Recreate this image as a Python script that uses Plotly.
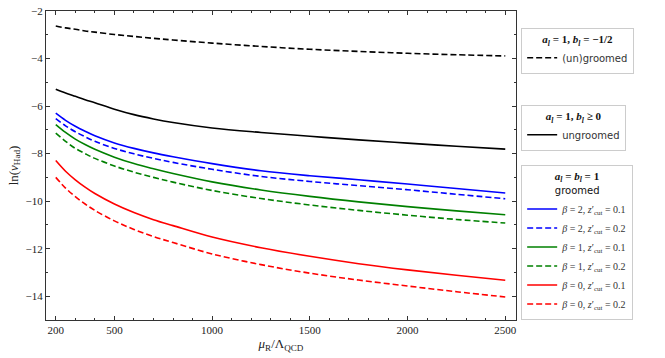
import plotly.graph_objects as go

# renormalisation scale mu_R / Lambda_QCD
mu = [200, 250, 300, 350, 400, 500, 600, 700, 800, 1000, 1250, 1500, 1750, 2000, 2250, 2500]

# a_l = 1, b_l = -1/2 : (un)groomed
unbal_dashed = [-2.63, -2.71, -2.77, -2.84, -2.89, -2.99, -3.07, -3.15, -3.22, -3.35, -3.49, -3.61, -3.70, -3.78, -3.84, -3.89]
# a_l = 1, b_l >= 0 : ungroomed
ungroomed = [-5.29, -5.45, -5.59, -5.73, -5.86, -6.13, -6.36, -6.54, -6.69, -6.92, -7.11, -7.27, -7.42, -7.56, -7.69, -7.81]
# a_l = b_l = 1 : groomed
b2_z01 = [-6.30, -6.60, -6.85, -7.06, -7.25, -7.55, -7.78, -7.97, -8.13, -8.42, -8.72, -8.93, -9.10, -9.28, -9.47, -9.66]
b2_z02 = [-6.53, -6.83, -7.08, -7.29, -7.48, -7.78, -8.01, -8.20, -8.37, -8.66, -8.96, -9.17, -9.35, -9.52, -9.71, -9.90]
b1_z01 = [-6.78, -7.11, -7.39, -7.62, -7.82, -8.15, -8.42, -8.64, -8.84, -9.19, -9.53, -9.80, -10.03, -10.23, -10.41, -10.57]
b1_z02 = [-7.14, -7.48, -7.78, -8.00, -8.20, -8.52, -8.78, -9.00, -9.20, -9.55, -9.89, -10.16, -10.39, -10.59, -10.77, -10.92]
b0_z01 = [-8.29, -8.74, -9.10, -9.41, -9.68, -10.12, -10.48, -10.78, -11.03, -11.51, -11.96, -12.32, -12.63, -12.89, -13.12, -13.33]
b0_z02 = [-9.00, -9.45, -9.81, -10.12, -10.39, -10.83, -11.19, -11.49, -11.74, -12.22, -12.67, -13.03, -13.32, -13.57, -13.81, -14.03]

x_ticks = [200, 500, 1000, 1500, 2000, 2500]

SERIF = "Liberation Serif"
SANS = "DejaVu Sans"
DASH = "6px,3px"

fig = go.Figure()


def add_line(y, name, color, dash, legend):
    fig.add_trace(go.Scatter(
        x=mu, y=y, mode="lines", name=name, legend=legend,
        line=dict(color=color, width=1.6, dash=dash, shape="spline", smoothing=1.0),
    ))


def sans(text):
    return f"<span style=\"font-family:'{SANS}'\">{text}</span>"


def zcut(beta, z):
    return f"<i>β</i> = {beta}, <i>z</i>′<sub>cut</sub> = {z}"


add_line(unbal_dashed, sans("(un)groomed"), "black", DASH, "legend")
add_line(ungroomed, sans("ungroomed"), "black", "solid", "legend2")
add_line(b2_z01, zcut(2, 0.1), "blue", "solid", "legend3")
add_line(b2_z02, zcut(2, 0.2), "blue", DASH, "legend3")
add_line(b1_z01, zcut(1, 0.1), "green", "solid", "legend3")
add_line(b1_z02, zcut(1, 0.2), "green", DASH, "legend3")
add_line(b0_z01, zcut(0, 0.1), "red", "solid", "legend3")
add_line(b0_z02, zcut(0, 0.2), "red", DASH, "legend3")

legend_style = dict(
    xanchor="left", yanchor="top",
    bgcolor="white", bordercolor="#cccccc", borderwidth=1,
    font=dict(family=SERIF, size=10, color="#333333"),
    tracegroupgap=0, itemwidth=30,
)


def legend_title(text):
    return dict(text=text, side="top center",
                font=dict(family=SERIF, size=11, color="#111111"))


fig.update_layout(
    width=665, height=358,
    margin=dict(l=46, r=149, t=11, b=38),
    plot_bgcolor="white", paper_bgcolor="white",
    font=dict(family=SERIF, size=11, color="#222222"),
    showlegend=True,
    legend=dict(x=1.011, y=0.945,
                title=legend_title("<b><i>a<sub>l</sub></i> = 1, <i>b<sub>l</sub></i> = −1/2</b>"),
                **legend_style),
    legend2=dict(x=1.011, y=0.696,
                 title=legend_title("<b><i>a<sub>l</sub></i> = 1, <i>b<sub>l</sub></i> ≥ 0</b>"),
                 **legend_style),
    legend3=dict(x=1.011, y=0.502,
                 title=legend_title("<b><i>a<sub>l</sub></i> = <i>b<sub>l</sub></i> = 1</b><br>"
                                    + sans("<span style='font-size:10px'>groomed</span>")),
                 **legend_style),
)

axis_common = dict(
    showline=True, linecolor="#333333", linewidth=1, mirror="ticks",
    ticks="inside", ticklen=4, tickcolor="#333333", tickwidth=1,
    showgrid=False, zeroline=False, automargin=False,
    tickfont=dict(family=SERIF, size=11, color="#222222"),
)

fig.update_xaxes(
    range=[150, 2555], tickmode="array", tickvals=x_ticks,
    minor=dict(tickmode="linear", tick0=0, dtick=100, ticks="inside",
               ticklen=2, tickcolor="#333333", showgrid=False),
    title=dict(text="<i>μ</i><sub>R</sub>/Λ<sub>QCD</sub>", standoff=0,
               font=dict(family=SERIF, size=13)),
    **axis_common,
)
fig.update_yaxes(
    range=[-15, -2], tickmode="linear", tick0=-14, dtick=2,
    minor=dict(tickmode="linear", tick0=-15, dtick=1, ticks="inside",
               ticklen=2, tickcolor="#333333", showgrid=False),
    title=dict(text="ln(<i>v</i><sub>Had</sub>)", standoff=4,
               font=dict(family=SERIF, size=13)),
    **axis_common,
)

# drop the default 8px page margin so the figure sits at the window origin
fig.write_html("out.html", config={"displayModeBar": False},
               post_script="document.body.style.margin = '0';")
